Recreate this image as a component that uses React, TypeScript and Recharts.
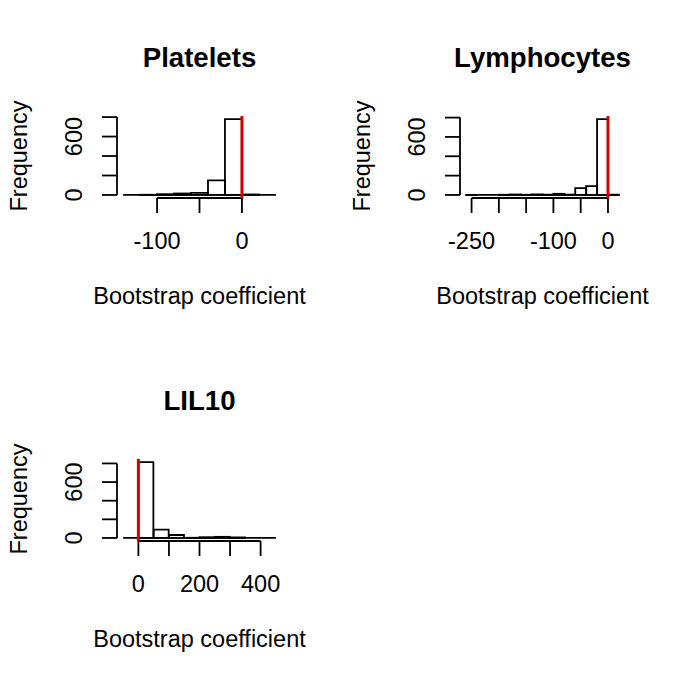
import React from 'react';
import { ComposedChart, Bar, XAxis, YAxis, ReferenceLine } from 'recharts';

const FONT = '"Liberation Sans", Arial, Helvetica, sans-serif';
const RED = '#d40000';
const INK = '#000000';

// Platelets histogram (bin edges, counts per bin)
const plateletBreaks = [-140, -120, -100, -80, -60, -40, -20, 0, 20, 40];
const plateletCounts = [0, 2, 8, 15, 22, 150, 780, 5, 0];
const plateletXTicks = [-100, -50, 0];
const plateletXLabels = [-100, 0];

// Lymphocytes histogram
const lymphBreaks = [-260, -240, -220, -200, -180, -160, -140, -120, -100, -80, -60, -40, -20, 0, 20];
const lymphCounts = [1, 0, 0, 2, 5, 2, 6, 3, 12, 4, 70, 92, 785, 3];
const lymphXTicks = [-250, -200, -150, -100, -50, 0];
const lymphXLabels = [-250, -100, 0];

// LIL10 histogram
const lil10Breaks = [-50, 0, 50, 100, 150, 200, 250, 300, 350, 400, 450];
const lil10Counts = [0, 815, 90, 32, 2, 8, 12, 6, 0, 0];
const lil10XTicks = [0, 100, 200, 300, 400];
const lil10XLabels = [0, 200, 400];

// shared frequency axis
const freqTicks = [0, 200, 400, 600, 800];
const freqLabels = [0, 600];

const SIZE = 342;
const LW = 1.8;

interface PanelProps {
  title: string;
  breaks: number[];
  counts: number[];
  xTicks: number[];
  xLabels: number[];
  left: number;
  top: number;
}

const Histogram = ({ title, breaks, counts, xTicks, xLabels, left, top }: PanelProps) => {
  const data = counts.map((n, i) => ({ mid: (breaks[i] + breaks[i + 1]) / 2, count: n }));
  const lo = breaks[0];
  const hi = breaks[breaks.length - 1];
  const xPad = (hi - lo) * 0.04;
  const maxCount = Math.max(...counts);
  const yMin = -0.04 * maxCount;
  const yMax = 1.04 * maxCount;

  const xTick = (props: any) => {
    const { x, y, payload } = props;
    if (!xLabels.includes(payload.value)) return <g />;
    return (
      <text x={x} y={y + 36} textAnchor="middle" fontFamily={FONT} fontSize={23.5} fill={INK}>
        {payload.value}
      </text>
    );
  };

  const yTick = (props: any) => {
    const { x, y, payload } = props;
    if (!freqLabels.includes(payload.value)) return <g />;
    const bx = x - 20;
    return (
      <text x={bx} y={y} transform={`rotate(-90, ${bx}, ${y})`} textAnchor="middle" fontFamily={FONT} fontSize={23.5} fill={INK}>
        {payload.value}
      </text>
    );
  };

  return (
    <div style={{ position: 'absolute', left, top, width: SIZE, height: SIZE }}>
      <svg width={SIZE} height={SIZE} style={{ position: 'absolute', left: 0, top: 0 }}>
        <text x={199.5} y={67} textAnchor="middle" fontFamily={FONT} fontWeight="bold" fontSize={27.6} fill={INK}>
          {title}
        </text>
        <text x={199.5} y={304} textAnchor="middle" fontFamily={FONT} fontSize={23.5} fill={INK}>
          Bootstrap coefficient
        </text>
        <text x={27} y={156} transform="rotate(-90, 27, 156)" textAnchor="middle" fontFamily={FONT} fontSize={23.5} fill={INK}>
          Frequency
        </text>
      </svg>
      <div style={{ position: 'absolute', left: 0, top: 0 }}>
        <ComposedChart
          width={SIZE}
          height={SIZE}
          data={data}
          margin={{ top: 116, right: 60, bottom: 84, left: 57 }}
          barCategoryGap={0}
          barGap={0}
        >
          <XAxis
            dataKey="mid"
            type="number"
            domain={[lo - xPad, hi + xPad]}
            allowDataOverflow
            ticks={xTicks}
            interval={0}
            height={60}
            tickSize={15}
            tickMargin={0}
            axisLine={false}
            tickLine={{ stroke: INK, strokeWidth: LW }}
            tick={xTick}
          />
          <YAxis
            type="number"
            domain={[yMin, yMax]}
            allowDataOverflow
            ticks={freqTicks}
            interval={0}
            width={60}
            tickSize={15}
            tickMargin={0}
            axisLine={false}
            tickLine={{ stroke: INK, strokeWidth: LW }}
            tick={yTick}
          />
          <ReferenceLine segment={[{ x: lo, y: 0 }, { x: hi, y: 0 }]} stroke={INK} strokeWidth={LW} ifOverflow="visible" />
          <Bar dataKey="count" fill="none" stroke={INK} strokeWidth={LW} isAnimationActive={false} />
          <ReferenceLine
            segment={[{ x: xTicks[0], y: yMin }, { x: xTicks[xTicks.length - 1], y: yMin }]}
            stroke={INK}
            strokeWidth={LW}
            ifOverflow="visible"
          />
          <ReferenceLine
            segment={[{ x: lo - xPad, y: freqTicks[0] }, { x: lo - xPad, y: freqTicks[freqTicks.length - 1] }]}
            stroke={INK}
            strokeWidth={LW}
            ifOverflow="visible"
          />
          <ReferenceLine x={0} stroke={RED} strokeWidth={3} ifOverflow="visible" />
        </ComposedChart>
      </div>
    </div>
  );
};

export default function App() {
  return (
    <div style={{ position: 'absolute', left: 0, top: 0, width: 685, height: 685, background: '#fff' }}>
      <Histogram title="Platelets" breaks={plateletBreaks} counts={plateletCounts} xTicks={plateletXTicks} xLabels={plateletXLabels} left={0} top={0} />
      <Histogram title="Lymphocytes" breaks={lymphBreaks} counts={lymphCounts} xTicks={lymphXTicks} xLabels={lymphXLabels} left={343} top={0} />
      <Histogram title="LIL10" breaks={lil10Breaks} counts={lil10Counts} xTicks={lil10XTicks} xLabels={lil10XLabels} left={0} top={343} />
    </div>
  );
}
